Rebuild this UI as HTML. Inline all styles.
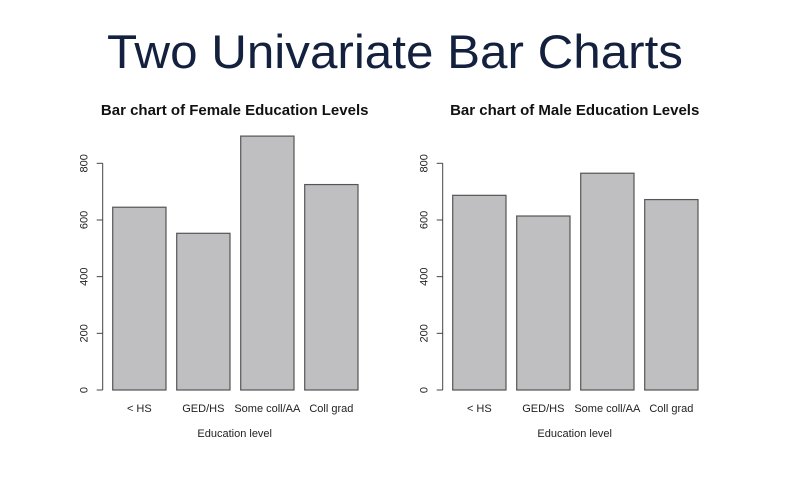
<!DOCTYPE html>
<html><head><meta charset="utf-8"><style>
html,body{margin:0;padding:0;background:#fff;}
svg{display:block;}
text{font-family:"Liberation Sans",Arial,sans-serif;}
</style></head><body>
<svg id="s" width="807" height="495" viewBox="0 0 807 495">
<rect width="807" height="495" fill="#fff"/>
<text x="395" y="68" text-anchor="middle" font-size="47" fill="#13213f" textLength="576" lengthAdjust="spacingAndGlyphs">Two Univariate Bar Charts</text>
<g id="c1"></g>
<g id="c2"></g>
</svg>
<script>
const categories = ["< HS", "GED/HS", "Some coll/AA", "Coll grad"];
const femaleValues = [645, 553, 896, 725];
const maleValues = [687, 614, 765, 672];
const yTicks = [0, 200, 400, 600, 800];

const NS = "http://www.w3.org/2000/svg";
function mk(tag, attrs, parent) {
  const e = document.createElementNS(NS, tag);
  for (const k in attrs) e.setAttribute(k, attrs[k]);
  parent.appendChild(e);
  return e;
}
function draw(g, ox, title, values, prefix) {
  const y0 = 390, scale = 226.7 / 800;
  const yScale = v => y0 - v * scale;
  const barX = i => ox + 10 + i * 64;
  const barW = 53.3;
  const t = mk("text", {x: ox + 132, y: 115, "text-anchor": "middle", "font-size": "15", "font-weight": "bold", fill: "#111"}, g);
  t.textContent = title;
  
  
  values.forEach((v, i) => {
    const r = mk("rect", {x: barX(i), y: yScale(v), width: barW, height: y0 - yScale(v), fill: "#bfbec0", stroke: "#555", "stroke-width": "1.2"}, g);
    
    
    const lb = mk("text", {x: barX(i) + barW / 2, y: 412, "text-anchor": "middle", "font-size": "11", fill: "#222"}, g);
    lb.textContent = categories[i];
    
    
  });
  const ax = mk("line", {x1: ox, x2: ox, y1: yScale(0), y2: yScale(800), stroke: "#444", "stroke-width": "1"}, g);
  
  
  yTicks.forEach(v => {
    const tk = mk("line", {x1: ox - 6, x2: ox, y1: yScale(v), y2: yScale(v), stroke: "#444", "stroke-width": "1"}, g);
    
    
    const tl = mk("text", {x: 0, y: 0, transform: "translate(" + (ox - 15) + "," + yScale(v) + ") rotate(-90)", "text-anchor": "middle", "font-size": "11", fill: "#222"}, g);
    tl.textContent = String(v);
    
    
  });
  const xt = mk("text", {x: ox + 132, y: 437, "text-anchor": "middle", "font-size": "11", fill: "#222"}, g);
  xt.textContent = "Education level";
  
  
}
draw(document.getElementById("c1"), 102.7, "Bar chart of Female Education Levels", femaleValues, "female");
draw(document.getElementById("c2"), 442.7, "Bar chart of Male Education Levels", maleValues, "male");
</script>
</body></html>
